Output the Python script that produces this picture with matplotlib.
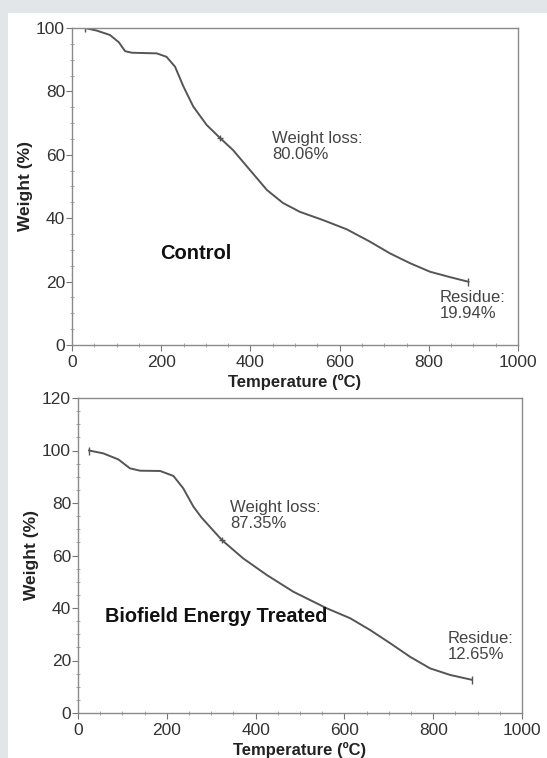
import matplotlib.pyplot as plt
from matplotlib.patches import Rectangle
from matplotlib.ticker import MultipleLocator

# Control sample TGA curve
ctrl_temp = [29, 55, 85, 105, 119, 134, 160, 190, 212, 231, 250, 272, 302, 332, 361,
             399, 437, 473, 511, 563, 616, 668, 713, 758, 803, 848, 889]
ctrl_wt = [100, 99.2, 97.8, 95.5, 92.7, 92.2, 92.1, 92.0, 90.9, 87.8, 81.5, 75.2, 69.4,
           65.3, 61.5, 55.2, 48.9, 44.8, 42.0, 39.4, 36.5, 32.6, 28.9, 25.8, 23.1, 21.4, 19.94]

# Biofield treated sample TGA curve
trt_temp = [25, 57, 91, 117, 140, 185, 215, 237, 260, 278, 324, 372, 425, 485, 560,
            613, 658, 703, 748, 793, 838, 887]
trt_wt = [100, 98.9, 96.6, 93.2, 92.3, 92.2, 90.3, 85.6, 78.6, 74.5, 65.9, 58.9, 52.6,
          46.2, 39.9, 36.1, 31.6, 26.6, 21.4, 17.0, 14.5, 12.65]

ctrl_loss, ctrl_res = "80.06%", "19.94%"
trt_loss, trt_res = "87.35%", "12.65%"

plt.rcParams['font.family'] = ['Liberation Sans', 'DejaVu Sans']

fig = plt.figure(figsize=(5.47, 7.58), dpi=100)
fig.patch.set_facecolor('#e3e6e8')
fig.patches.append(Rectangle((8 / 547, 0), 1, 1 - 13 / 758, transform=fig.transFigure,
                             facecolor='white', edgecolor='none', zorder=-10))

ax1 = fig.add_axes([72 / 547, 1 - 345 / 758, 446 / 547, 317 / 758])
ax2 = fig.add_axes([78 / 547, 1 - 713 / 758, 444 / 547, 315 / 758])

line_c = '#555555'


def style(ax, ymax):
    ax.set_xlim(0, 1000)
    ax.set_ylim(0, ymax)
    ax.xaxis.set_major_locator(MultipleLocator(200))
    ax.xaxis.set_minor_locator(MultipleLocator(50))
    ax.yaxis.set_major_locator(MultipleLocator(20))
    ax.yaxis.set_minor_locator(MultipleLocator(5))
    for s in ax.spines.values():
        s.set_color('#8a8a8a')
        s.set_linewidth(1.0)
    ax.tick_params(which='major', direction='out', length=4, color='#777777',
                   labelsize=12.5, labelcolor='#333333', pad=1)
    ax.tick_params(axis='x', which='major', pad=3)
    ax.tick_params(which='minor', direction='inout', length=3, color='#999999')
    ax.set_facecolor('none')
    ax.set_xlabel('Temperature (ºC)', fontsize=12, fontweight='bold', labelpad=3,
                  color='#222222')
    ax.set_ylabel('Weight (%)', fontsize=12.5, fontweight='bold', labelpad=2,
                  color='#222222')


style(ax1, 100)
style(ax2, 120)

ax1.plot(ctrl_temp, ctrl_wt, color=line_c, linewidth=1.4)
ax1.plot([ctrl_temp[0], ctrl_temp[-1]], [ctrl_wt[0], ctrl_wt[-1]], linestyle='none',
         marker='|', markersize=6, color=line_c)
ax1.plot(ctrl_temp[13], ctrl_wt[13], marker='+', markersize=4, color=line_c)

ax2.plot(trt_temp, trt_wt, color=line_c, linewidth=1.4)
ax2.plot([trt_temp[0], trt_temp[-1]], [trt_wt[0], trt_wt[-1]], linestyle='none',
         marker='|', markersize=6, color=line_c)
ax2.plot(trt_temp[10], trt_wt[10], marker='+', markersize=4, color=line_c)

txt = dict(fontsize=12, color='#444444', va='top', ha='left', linespacing=1.1)
ax1.text(448, 67.5, 'Weight loss:\n' + ctrl_loss, **txt)
ax1.text(825, 17.5, 'Residue:\n' + ctrl_res, **txt)
ax1.text(197, 29, 'Control', fontsize=14.5, fontweight='bold', color='#111111',
         va='center', ha='left')

ax2.text(342, 81.2, 'Weight loss:\n' + trt_loss, **txt)
ax2.text(833, 31.2, 'Residue:\n' + trt_res, **txt)
ax2.text(61, 36.6, 'Biofield Energy Treated', fontsize=14.3, fontweight='bold',
         color='#111111', va='center', ha='left')

fig.savefig('out.png', dpi=100, facecolor=fig.get_facecolor())
